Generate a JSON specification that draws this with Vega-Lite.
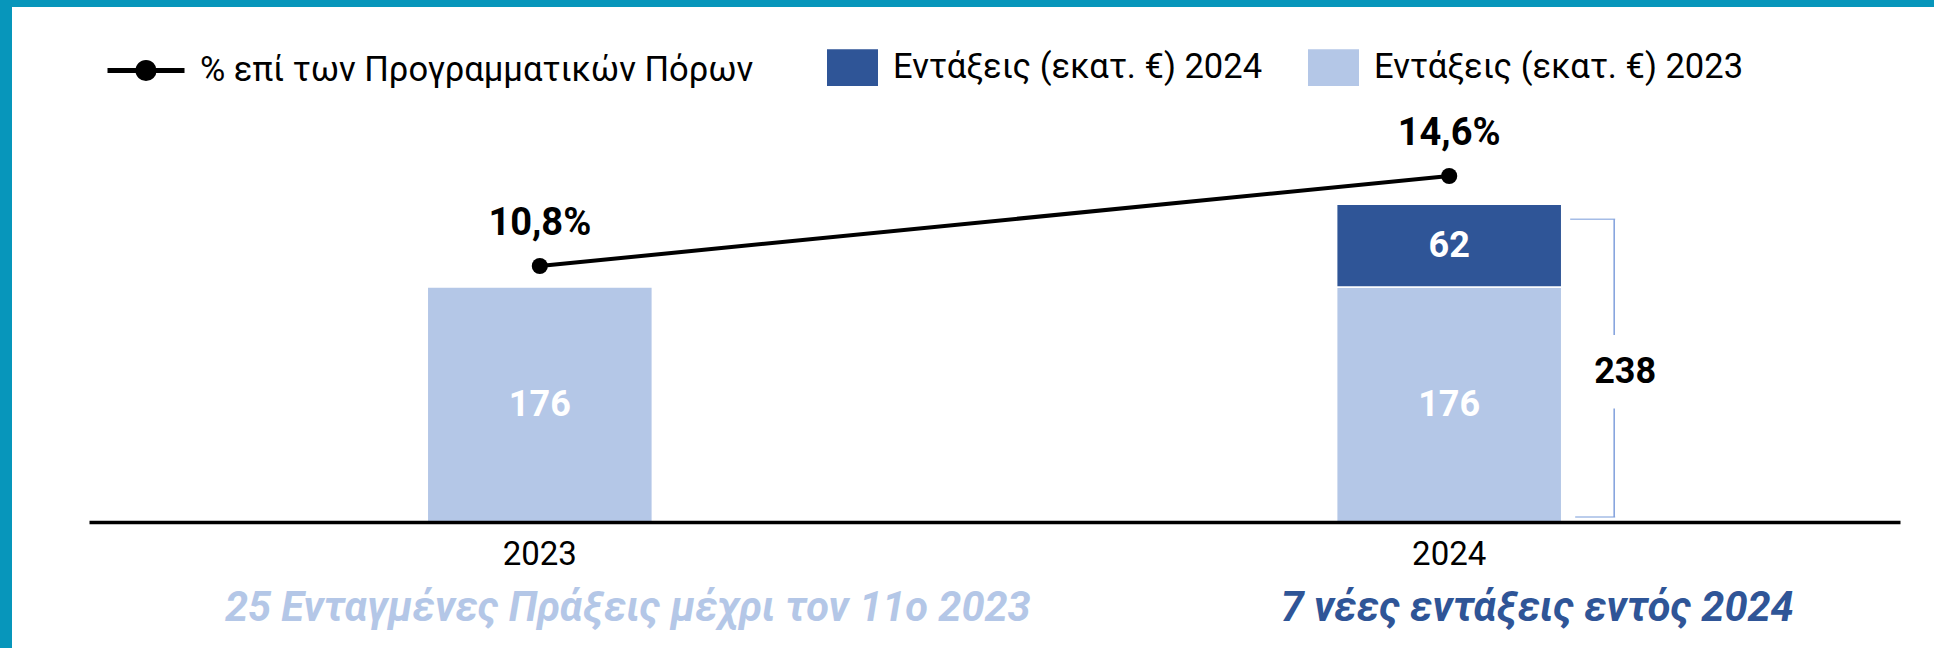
{
  "$schema": "https://vega.github.io/schema/vega-lite/v6.json",
  "width": 1922,
  "height": 641,
  "autosize": {"type": "none"},
  "padding": {"left": 12, "top": 7, "right": 0, "bottom": 0},
  "background": "#0796bb",
  "config": {
    "font": "Roboto",
    "view": {"fill": "white", "stroke": null}
  },
  "datasets": {
    "bars": [
      {"year": "2023", "series": "Εντάξεις (εκατ. €) 2023", "value": 176},
      {"year": "2024", "series": "Εντάξεις (εκατ. €) 2023", "value": 176},
      {"year": "2024", "series": "Εντάξεις (εκατ. €) 2024", "value": 62}
    ],
    "pct": [
      {"year": "2023", "series": "% επί των Προγραμματικών Πόρων", "pct": 10.8, "label": "10,8%"},
      {"year": "2024", "series": "% επί των Προγραμματικών Πόρων", "pct": 14.6, "label": "14,6%"}
    ],
    "total": [
      {"year": "2024", "total": 238}
    ],
    "notes": [
      {"year": "2023", "series": "Εντάξεις (εκατ. €) 2023", "note": "25 Ενταγμένες Πράξεις μέχρι τον 11ο 2023"},
      {"year": "2024", "series": "Εντάξεις (εκατ. €) 2024", "note": "7 νέες εντάξεις εντός 2024"}
    ]
  },
  "encoding": {
    "x": {
      "field": "year", "type": "nominal",
      "scale": {"domain": ["2023", "2024"], "range": [77, 1888], "paddingInner": 0.7525, "paddingOuter": 0.372},
      "axis": {
        "orient": "bottom", "offset": -126, "title": null, "ticks": false, "tickSize": 0,
        "domainColor": "black", "domainWidth": 3.5, "zindex": 1,
        "labelFont": "Roboto", "labelFontSize": 33, "labelColor": "black",
        "labelBaseline": "middle", "labelPadding": 32, "labelAngle": 0
      }
    }
  },
  "layer": [
    {
      "layer": [
        {
          "data": {"name": "bars"},
          "mark": {"type": "bar", "stroke": "white", "strokeWidth": 1.5},
          "encoding": {
            "y": {
              "field": "value", "type": "quantitative", "stack": "zero",
              "scale": {"domain": [0, 300], "range": [515, 114.5], "nice": false, "zero": false},
              "axis": null
            },
            "color": {
              "field": "series", "type": "nominal",
              "scale": {"domain": ["Εντάξεις (εκατ. €) 2024", "Εντάξεις (εκατ. €) 2023"], "range": ["#2f5597", "#b4c7e7"]},
              "legend": {
                "orient": "none", "legendX": 815, "legendY": 35, "direction": "horizontal",
                "title": null, "symbolType": "M-1,-0.72H1V0.72H-1Z", "symbolSize": 2601,
                "symbolStrokeWidth": 0, "labelFont": "Roboto", "labelFontSize": 34.5, "labelColor": "black",
                "labelOffset": 15, "labelLimit": 800, "columnPadding": 45, "padding": 0
              }
            },
            "order": {"field": "series", "sort": "ascending"}
          }
        },
        {
          "data": {"name": "bars"},
          "transform": [
            {"stack": "value", "groupby": ["year"], "sort": [{"field": "series", "order": "ascending"}], "as": ["v0", "v1"]},
            {"fold": ["v0", "v1"], "as": ["k", "pos"]}
          ],
          "mark": {"type": "text", "color": "white", "fontWeight": "bold", "fontSize": 36, "baseline": "middle", "align": "center"},
          "encoding": {
            "y": {"aggregate": "mean", "field": "pos", "type": "quantitative", "axis": null},
            "detail": {"field": "series", "type": "nominal"},
            "text": {"field": "value", "type": "quantitative"}
          }
        },
        {
          "data": {"name": "total"},
          "mark": {"type": "tick", "orient": "horizontal", "size": 45, "thickness": 1.5, "color": "#7f9fdc", "xOffset": 143.5, "yOffset": 15},
          "encoding": {
            "y": {"field": "total", "type": "quantitative", "axis": null}
          }
        },
        {
          "data": {"name": "total"},
          "mark": {"type": "tick", "orient": "horizontal", "size": 40, "thickness": 1.5, "color": "#7f9fdc", "xOffset": 146, "yOffset": -5},
          "encoding": {
            "y": {"datum": 0, "type": "quantitative", "axis": null}
          }
        },
        {
          "data": {"name": "total"},
          "mark": {"type": "rule", "color": "#7f9fdc", "strokeWidth": 1.5, "xOffset": 165, "yOffset": 15},
          "encoding": {
            "y": {"field": "total", "type": "quantitative", "axis": null},
            "y2": {"datum": 140}
          }
        },
        {
          "data": {"name": "total"},
          "mark": {"type": "rule", "color": "#7f9fdc", "strokeWidth": 1.5, "xOffset": 165, "y2Offset": -5},
          "encoding": {
            "y": {"datum": 85, "type": "quantitative", "axis": null},
            "y2": {"datum": 0}
          }
        },
        {
          "data": {"name": "total"},
          "mark": {"type": "text", "color": "black", "fontWeight": "bold", "fontSize": 36, "baseline": "middle", "align": "center", "dx": 176},
          "encoding": {
            "y": {"datum": 112, "type": "quantitative", "axis": null},
            "text": {"field": "total", "type": "quantitative"}
          }
        },
        {
          "data": {"name": "notes"},
          "mark": {"type": "text", "fontWeight": "bold", "fontStyle": "italic", "fontSize": 41.5, "baseline": "middle", "align": "center", "dx": 88},
          "encoding": {
            "y": {"datum": -65, "type": "quantitative", "axis": null},
            "text": {"field": "note", "type": "nominal"},
            "color": {"field": "series", "type": "nominal"}
          }
        }
      ]
    },
    {
      "layer": [
        {
          "data": {"name": "pct"},
          "mark": {"type": "line", "strokeWidth": 4, "color": "black"},
          "encoding": {
            "y": {
              "field": "pct", "type": "quantitative",
              "scale": {"domain": [0, 20], "range": [515, 41], "nice": false, "zero": false},
              "axis": null
            },
            "stroke": {
              "field": "series", "type": "nominal",
              "scale": {"range": ["black"]},
              "legend": {
                "orient": "none", "legendX": 93, "legendY": 22.5, "title": null,
                "symbolType": "M-1,0H1M0.21,0A0.21,0.21,0,1,1,-0.21,0A0.21,0.21,0,1,1,0.21,0Z",
                "symbolSize": 5929, "symbolStrokeWidth": 5, "symbolStrokeColor": "black", "symbolFillColor": "black",
                "labelFont": "Roboto", "labelFontSize": 34.5, "labelColor": "black", "labelOffset": 13, "labelLimit": 800, "padding": 0,
                "encode": {"symbols": {"update": {"fill": {"value": "black"}, "strokeWidth": {"value": 5}}}}
              }
            }
          }
        },
        {
          "data": {"name": "pct"},
          "mark": {"type": "circle", "size": 260, "color": "black", "opacity": 1},
          "encoding": {
            "y": {"field": "pct", "type": "quantitative", "axis": null}
          }
        },
        {
          "data": {"name": "pct"},
          "mark": {"type": "text", "color": "black", "fontWeight": "bold", "fontSize": 38, "baseline": "middle", "align": "center", "dy": -42},
          "encoding": {
            "y": {"field": "pct", "type": "quantitative", "axis": null},
            "text": {"field": "label", "type": "nominal"}
          }
        }
      ]
    }
  ],
  "resolve": {"scale": {"y": "independent"}}
}
